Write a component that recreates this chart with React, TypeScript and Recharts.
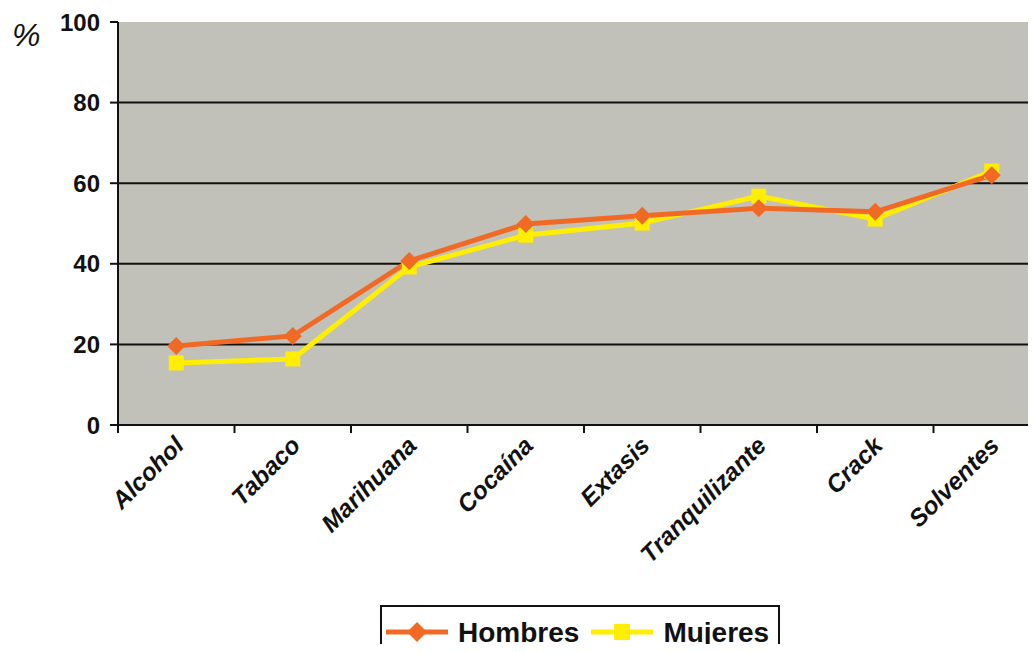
import { ComposedChart, Line, XAxis, YAxis, CartesianGrid } from "recharts"

const categories = ["Alcohol", "Tabaco", "Marihuana", "Cocaína", "Extasis", "Tranquilizante", "Crack", "Solventes"]
const hombres = [19.6, 22.1, 40.7, 49.9, 51.9, 53.8, 52.9, 62]
const mujeres = [15.4, 16.4, 39.2, 47.1, 50.1, 56.8, 51.1, 63]
const yTicks = [0, 20, 40, 60, 80, 100]
const gridValues = [20, 40, 60, 80]

const ORANGE = "#f06a25"
const YELLOW = "#ffee00"
const FONT = "'Liberation Sans', Arial, sans-serif"

const data = categories.map((name, i) => ({ name, hombres: hombres[i], mujeres: mujeres[i] }))

function Diamond({ cx, cy, r = 9 }: { cx?: number; cy?: number; r?: number }) {
  if (cx == null || cy == null) return null
  return (
    <polygon
      points={`${cx},${cy - r} ${cx + r},${cy} ${cx},${cy + r} ${cx - r},${cy}`}
      fill={ORANGE}
    />
  )
}

function Square({ cx, cy, s = 15 }: { cx?: number; cy?: number; s?: number }) {
  if (cx == null || cy == null) return null
  return <rect x={cx - s / 2} y={cy - s / 2} width={s} height={s} fill={YELLOW} />
}

function YTick(props: any) {
  const { x, y, payload } = props
  return (
    <text x={x} y={y + 8.5} textAnchor="end" fontFamily={FONT} fontWeight="bold" fontSize={24} fill="#111">
      {payload.value}
    </text>
  )
}

function XTick(props: any) {
  const { x, y, payload, width, visibleTicksCount } = props
  const step = width / (visibleTicksCount || categories.length)
  const bx = x - step / 2
  const tx = x + 9
  const ty = y + 22
  return (
    <g>
      <line x1={bx} y1={y} x2={bx} y2={y + 8} stroke="#111" strokeWidth={2} />
      <text
        x={tx}
        y={ty}
        textAnchor="end"
        transform={`rotate(-45, ${tx}, ${ty})`}
        fontFamily={FONT}
        fontWeight="bold"
        fontStyle="italic"
        fontSize={24.5}
        fill="#111"
      >
        {payload.value}
      </text>
    </g>
  )
}

export default function App() {
  return (
    <div style={{ position: "relative", margin: -8, width: 1036, height: 652, overflow: "hidden", background: "#fff", fontFamily: FONT }}>
      <ComposedChart width={1060} height={652} data={data} margin={{ top: 22, right: 10, left: 0, bottom: 0 }}>
        <CartesianGrid
          vertical={false}
          horizontalValues={gridValues}
          stroke="#111"
          strokeWidth={2}
          fill="#c1c1b9"
          fillOpacity={1}
        />
        <XAxis
          dataKey="name"
          scale="band"
          interval={0}
          height={227}
          tickLine={false}
          tickSize={0}
          tickMargin={0}
          axisLine={{ stroke: "#111", strokeWidth: 2 }}
          tick={<XTick />}
        />
        <YAxis
          width={118}
          domain={[0, 100]}
          ticks={yTicks}
          interval={0}
          tickSize={8}
          tickMargin={10}
          axisLine={{ stroke: "#111", strokeWidth: 2 }}
          tickLine={{ stroke: "#111", strokeWidth: 2 }}
          tick={<YTick />}
        />
        <Line
          dataKey="mujeres"
          type="linear"
          stroke={YELLOW}
          strokeWidth={5}
          dot={(p: any) => <Square key={`m-${p.index}`} cx={p.cx} cy={p.cy} />}
          activeDot={false}
          isAnimationActive={false}
        />
        <Line
          dataKey="hombres"
          type="linear"
          stroke={ORANGE}
          strokeWidth={5}
          dot={(p: any) => <Diamond key={`h-${p.index}`} cx={p.cx} cy={p.cy} />}
          activeDot={false}
          isAnimationActive={false}
        />
      </ComposedChart>

      <div style={{ position: "absolute", left: 12, top: 17, fontSize: 32, fontStyle: "italic", color: "#111" }}>%</div>

      <div
        style={{
          position: "absolute",
          left: 380,
          top: 605,
          width: 400,
          height: 60,
          border: "2px solid #111",
          background: "#fff",
          display: "flex",
          alignItems: "flex-start",
          paddingTop: 10,
          boxSizing: "border-box",
          fontWeight: "bold",
          fontSize: 28,
          color: "#111",
        }}
      >
        <svg width={66} height={30} style={{ marginLeft: 4, marginRight: 6 }}>
          <line x1={0} y1={15} x2={62} y2={15} stroke={ORANGE} strokeWidth={5} />
          <Diamond cx={31} cy={15} r={10} />
        </svg>
        <span style={{ lineHeight: "32px" }}>Hombres</span>
        <svg width={66} height={30} style={{ marginLeft: 12, marginRight: 6 }}>
          <line x1={0} y1={15} x2={62} y2={15} stroke={YELLOW} strokeWidth={5} />
          <Square cx={31} cy={15} s={16} />
        </svg>
        <span style={{ lineHeight: "32px" }}>Mujeres</span>
      </div>
    </div>
  )
}
